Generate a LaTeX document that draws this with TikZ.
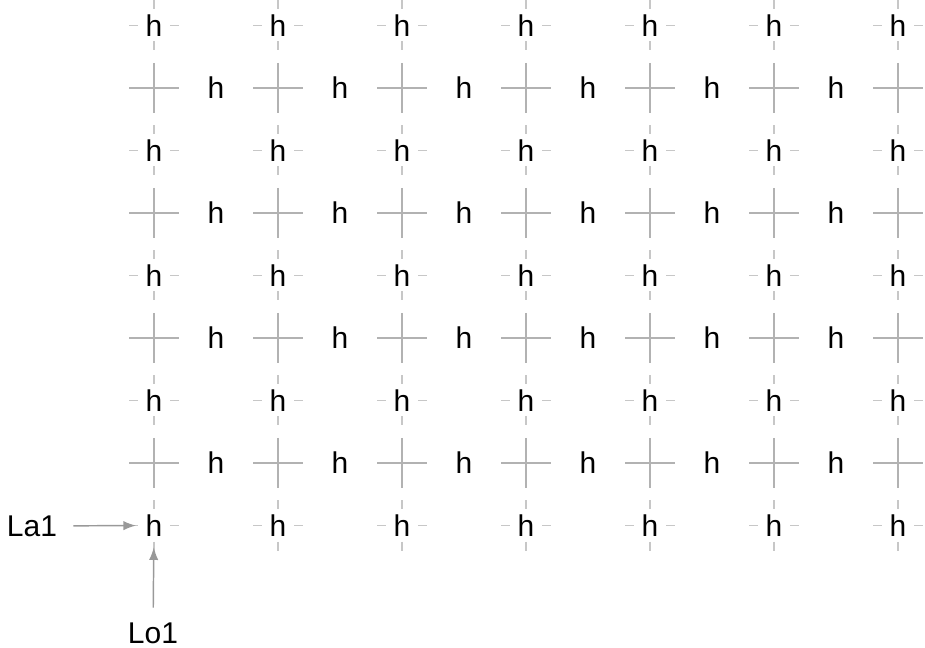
\documentclass[tikz,border=0pt]{standalone}
\usepackage{fontspec}
\setmainfont{Liberation Sans}
\usetikzlibrary{arrows.meta}
\begin{document}
\begin{tikzpicture}[x=0.75pt,y=-0.75pt,
  lbl/.style={inner sep=0pt, font=\fontsize{22.5}{27}\selectfont, text=black},
  crossline/.style={draw=black!30, line width=1.1pt},
  dashline/.style={draw=black!22, line width=1.1pt},
  arr/.style={draw=black!40, fill=black!40, line width=1.1pt, -{Latex[length=9.5pt,width=7pt]}}]
\useasboundingbox (0,0) rectangle (925,648);
% rows with h at the grid points
\foreach \j in {0,2,4,6,8}{
  \foreach \i in {0,...,6}{
    \node[lbl] (h-\i-\j) at ({154+124*\i},{25.5+62.5*\j}) {h};
    \draw[dashline] (h-\i-\j.center) ++(-25,0) -- ++(9,0)
                    (h-\i-\j.center) ++(16,0) -- ++(9,0)
                    (h-\i-\j.center) ++(0,-25) -- ++(0,9)
                    (h-\i-\j.center) ++(0,16) -- ++(0,9);
  }
}
% rows with crosses at the grid points and h between them
\foreach \j in {1,3,5,7}{
  \foreach \i in {0,...,6}{
    \coordinate (c-\i-\j) at ({154+124*\i},{25.5+62.5*\j});
    \draw[crossline] (c-\i-\j) ++(-25,0) -- ++(50,0)
                     (c-\i-\j) ++(0,-25) -- ++(0,50);
  }
  \foreach \i in {0,...,5}{
    \node[lbl] (m-\i-\j) at ({216+124*\i},{25.5+62.5*\j}) {h};
  }
}
% labels and arrows
\node[lbl] (La1) at (32,526) {La1};
\node[lbl] (Lo1) at (153,633) {Lo1};
\draw[arr, shorten <=12pt, shorten >=7pt] (La1) -- (h-0-8);
\draw[arr, shorten <=11pt, shorten >=8pt] (Lo1) -- (h-0-8);
\end{tikzpicture}
\end{document}
